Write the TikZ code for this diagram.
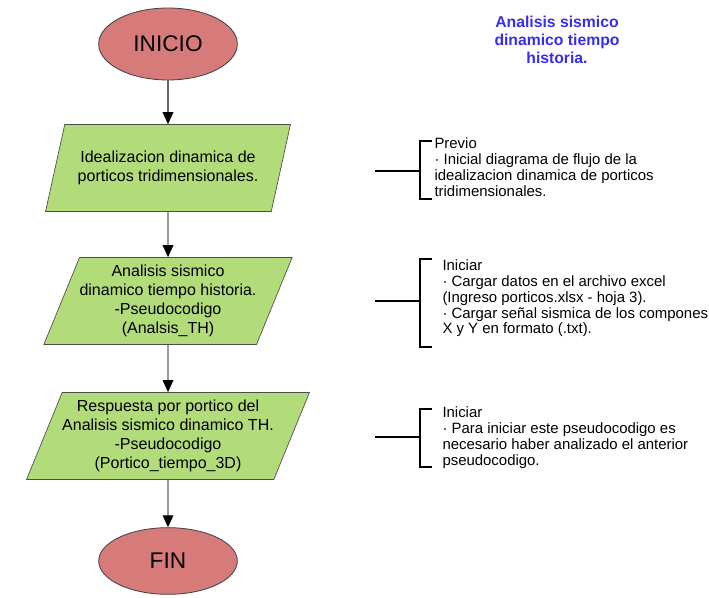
\documentclass[tikz,border=0pt]{standalone}
\usepackage{fontspec}
\setmainfont{Liberation Sans}
\usetikzlibrary{shapes.geometric,arrows.meta}

\definecolor{rojoelipse}{RGB}{214,122,122}
\definecolor{verdedatos}{RGB}{178,219,122}
\definecolor{azultitulo}{RGB}{55,45,235}

\tikzset{every picture/.style={line width=0.75pt}}
\tikzset{
  terminal/.style={ellipse, draw=black!75, line width=0.6pt, fill=rojoelipse,
    minimum width=104pt, minimum height=54pt, font=\fontsize{17}{20}\selectfont},
  datos/.style={trapezium, trapezium left angle=63.7, trapezium right angle=116.3,
    trapezium stretches=true, draw=black!70, line width=0.5pt, fill=verdedatos,
    minimum width=183.75pt, minimum height=65.25pt, inner sep=0pt, align=center,
    font=\fontsize{12}{14.3}\selectfont},
  flecha/.style={draw=black!60, line width=1pt, -{Triangle[length=9pt,width=8pt,color=black]}},
  llave/.style={line width=1.3pt},
  nota/.style={anchor=north west, inner sep=0pt, align=left, font=\fontsize{11.2}{11.8}\selectfont},
  titulo/.style={align=center, inner sep=0pt, text=azultitulo, font=\fontsize{11.8}{13.5}\selectfont\bfseries},
}

\begin{document}
\begin{tikzpicture}[x=0.75pt,y=0.75pt,yscale=-1,xscale=1]
\useasboundingbox (0,0) rectangle (709,598);

%Shape: Ellipse [inicio]
\node[terminal] (inicio) at (168,44) {INICIO};
%Shape: Parallelogram [dato1]
\node[datos] (dato1) at (168,168) {Idealizacion dinamica de\\porticos tridimensionales.};
%Shape: Parallelogram [dato2]
\node[datos] (dato2) at (168,301) {Analisis sismico\\dinamico tiempo historia.\\-Pseudocodigo\\(Analsis\_TH)};
%Shape: Parallelogram [dato3]
\node[datos] (dato3) at (168,436) {Respuesta por portico del\\Analisis sismico dinamico TH.\\-Pseudocodigo\\(Portico\_tiempo\_3D)};
%Shape: Ellipse [fin]
\node[terminal, minimum height=50pt] (fin) at (168,561) {FIN};

%Straight Lines
\draw[flecha] (inicio) -- (dato1);
\draw[flecha] (dato1) -- (dato2);
\draw[flecha] (dato2) -- (dato3);
\draw[flecha] (dato3) -- (fin);

%Shape: Brace
\draw[llave] (375,171) -- (420,171) (432,141) -- (420,141) -- (420,199) -- (432,199);
%Shape: Brace
\draw[llave] (375,301) -- (420,301) (432,259) -- (420,259) -- (420,347) -- (432,347);
%Shape: Brace
\draw[llave] (375,437) -- (420,437) (432,409) -- (420,409) -- (420,467) -- (432,467);

% Text Node
\node[nota] (nota1) at (434,137.5) {Previo\\· Inicial diagrama de flujo de la\\idealizacion dinamica de porticos\\tridimensionales.};
% Text Node
\node[nota] (nota2) at (442,259.6) {Iniciar\\· Cargar datos en el archivo excel\\(Ingreso porticos.xlsx - hoja 3).\\· Cargar señal sismica de los compones\\X y Y en formato (.txt).};
% Text Node
\node[nota] (nota3) at (442,406.6) {Iniciar\\· Para iniciar este pseudocodigo es\\necesario haber analizado el anterior\\pseudocodigo.};
% Text Node
\node[titulo] (titulo) at (557,40) {Analisis sismico\\dinamico tiempo\\historia.};

\end{tikzpicture}
\end{document}
